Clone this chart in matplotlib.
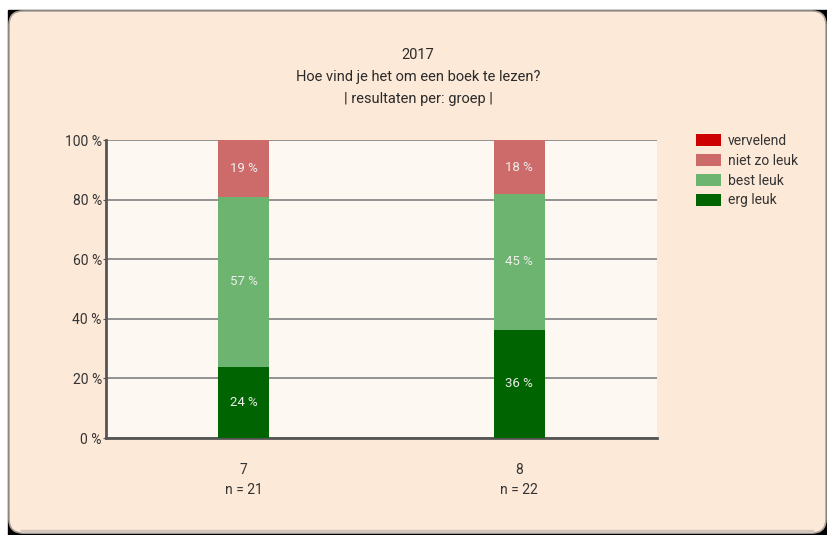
import numpy as np
import matplotlib
matplotlib.use("Agg")
import matplotlib.pyplot as plt
from matplotlib.patches import FancyBboxPatch, Rectangle

# answer counts per group (read from the percentages / n in the picture)
groups = ["7", "8"]
n_resp = [21, 22]
categories = ["erg leuk", "best leuk", "niet zo leuk", "vervelend"]
erg_leuk = [5, 8]
best_leuk = [12, 10]
niet_zo_leuk = [4, 4]
vervelend = [0, 0]
colors = ["#006400", "#6cb46f", "#cd6b6b", "#cc0000"]
yticks = [0, 20, 40, 60, 80, 100]

plt.rcParams["font.family"] = ["Roboto", "DejaVu Sans"]

W, H = 827, 535
fig = plt.figure(figsize=(W / 100, H / 100), dpi=100, facecolor="white")

# screenshot frame: black backing + rounded peach panel
bg = fig.add_axes([0, 0, 1, 1], zorder=-5)
bg.set_xlim(0, W); bg.set_ylim(H, 0); bg.axis("off")
bg.add_patch(Rectangle((8, 10), W - 8, H - 10, color="black"))
r = 14
bg.add_patch(FancyBboxPatch((9 + r, 11 + r), 817 - 2 * r, 522 - 2 * r,
                            boxstyle=f"round,pad={r}", fc="#fde9d8", ec="#a8a29c", lw=1.2))
bg.plot([22, 812], [531, 531], color="#d2c6bc", lw=2.5)

bg.text(418, 55, "2017", ha="center", va="center", fontsize=10.5, color="#2a2a2a")
bg.text(418, 77, "Hoe vind je het om een boek te lezen?", ha="center", va="center",
        fontsize=10.5, color="#2a2a2a")
bg.text(418, 99, "| resultaten per: groep |", ha="center", va="center",
        fontsize=10.5, color="#2a2a2a")

ax = fig.add_axes([106 / W, (H - 438) / H, (657 - 106) / W, (438 - 140) / H])
ax.set_facecolor("#fef8f3")

x = np.arange(len(groups))
series = [erg_leuk, best_leuk, niet_zo_leuk, vervelend]
bottom = np.zeros(len(groups))
for vals, col, lab in zip(series, colors, categories):
    pct = np.array(vals) / np.array(n_resp) * 100
    ax.bar(x, pct, width=0.185, bottom=bottom, color=col, label=lab, zorder=3)
    for xi, b, p in zip(x, bottom, pct):
        if p > 0:
            ax.text(xi, b + p / 2, f"{p:.0f} %", ha="center", va="center",
                    fontsize=9.5, color="#eeeeee", zorder=4)
    bottom += pct

ax.set_xlim(-0.5, 1.5)
ax.set_ylim(0, 100)
ax.set_yticks(yticks)
ax.set_yticklabels([f"{t} %" for t in yticks], fontsize=10, color="#333333")
ax.yaxis.grid(True, color="#8a8a8a", lw=1.3, zorder=1)
ax.tick_params(axis="y", length=2, pad=1, color="#555555")
ax.set_xticks(x)
ax.set_xticklabels([f"{g}\nn = {n}" for g, n in zip(groups, n_resp)],
                   fontsize=10, color="#333333", linespacing=1.55)
ax.tick_params(axis="x", length=0, pad=18)
for s in ["top", "right"]:
    ax.spines[s].set_visible(False)
for s in ["left", "bottom"]:
    ax.spines[s].set_color("#555555")
    ax.spines[s].set_linewidth(2)

h, l = ax.get_legend_handles_labels()
fig.legend(h[::-1], l[::-1], loc="upper left", bbox_to_anchor=(689 / W, 1 - 127 / H),
           frameon=False, fontsize=10, handlelength=1.8, handleheight=0.95,
           labelspacing=0.42, handletextpad=0.5, borderpad=0, labelcolor="#333333")

fig.savefig("out.png", dpi=100, facecolor="white")
